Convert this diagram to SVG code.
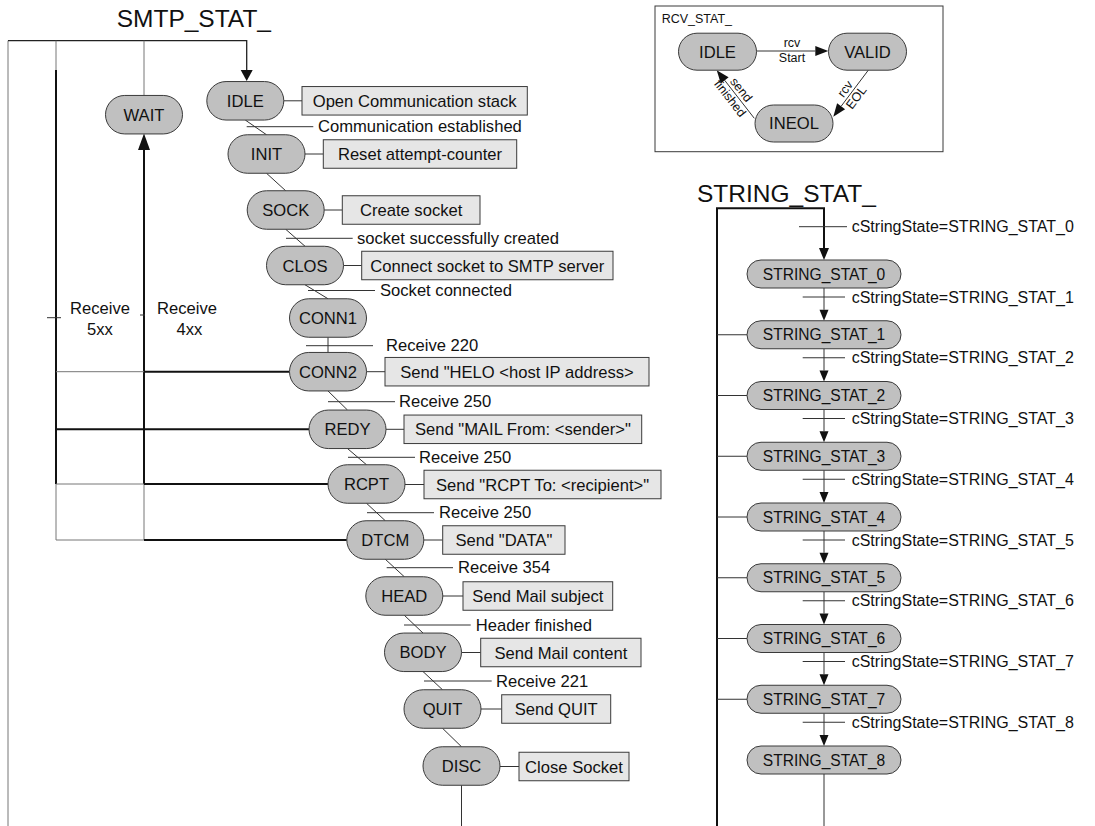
<svg xmlns="http://www.w3.org/2000/svg" width="1095" height="826" viewBox="0 0 1095 826">
<style>
.st{fill:#c0c0c0;stroke:#3a3a3a;stroke-width:1}
.ac{fill:#e6e6e6;stroke:#3a3a3a;stroke-width:1}
.box{fill:#fff;stroke:#3a3a3a;stroke-width:1}
text{font-family:"Liberation Sans",Arial,sans-serif;fill:#111}
.t{font-size:16.6px}
.c{text-anchor:middle}
.s{font-size:15.6px}
.sl{font-size:16px}
.sm{font-size:12.5px}
.ttl{font-size:24.5px}
.ln{stroke:#333;stroke-width:1;fill:none}
.thk{stroke:#111;stroke-width:2;fill:none}
.gr{stroke:#777;stroke-width:1;fill:none}
.ah{fill:#111;stroke:none}
</style>
<rect width="1095" height="826" fill="#fff"/>

<text class="ttl" x="116.7" y="27">SMTP_STAT_</text>
<text class="ttl" x="697" y="202">STRING_STAT_</text>

<g id="connectors">
  <!-- SMTP feedback lines -->
  <path class="gr" d="M8,826 V40.7"/>
  <path d="M8,40.7 H246.7 V70" stroke="#222" stroke-width="1.3" fill="none"/>
  <polygon class="ah" points="240.7,70 252.7,70 246.7,81"/>
  <path class="gr" d="M56,40.7 V70"/>
  <path class="thk" d="M56,70 V484"/>
  <path class="gr" d="M56,484 V540"/>
  <path class="gr" d="M144,40.7 V95.5"/>
  <path class="thk" d="M144,150 V484"/>
  <path class="gr" d="M144,484 V540"/>
  <polygon class="ah" points="138,150 150,150 144,133.5"/>
  <path class="gr" d="M56,371.7 H144"/>
  <path class="thk" d="M144,371.7 H289.5"/>
  <path class="thk" d="M56,429.3 H309"/>
  <path class="gr" d="M56,484 H144"/>
  <path class="thk" d="M144,484 H328"/>
  <path class="gr" d="M56,540 H144"/>
  <path class="thk" d="M144,540 H346.8"/>
  <path class="ln" d="M47,317.7 H61"/>
  <path class="ln" d="M140,315 H145"/>
  <text class="t c" x="100" y="314">Receive</text>
  <text class="t c" x="100" y="335">5xx</text>
  <text class="t c" x="187" y="314">Receive</text>
  <text class="t c" x="189.5" y="335">4xx</text>

  <!-- SMTP chain transitions -->
  <path class="ln" d="M245.3,120.05 L266.5,134.75"/>
  <path class="ln" d="M266.5,173.25 L285.7,190.75"/>
  <path class="ln" d="M285.7,229.25 L305,246.25"/>
  <path class="ln" d="M305,284.75 L328,298.75"/>
  <path class="ln" d="M328,337.25 L328,352.45"/>
  <path class="ln" d="M328,390.95 L347.5,410.05"/>
  <path class="ln" d="M347.5,448.55 L366.5,464.75"/>
  <path class="ln" d="M366.5,503.25 L385.3,520.75"/>
  <path class="ln" d="M385.3,559.25 L404.3,576.75"/>
  <path class="ln" d="M404.3,615.25 L423,633.05"/>
  <path class="ln" d="M423,671.55 L442.5,689.75"/>
  <path class="ln" d="M442.5,728.25 L461.5,746.75"/>
  <path class="ln" d="M461.5,785.25 V826"/>

  <!-- transition bars + labels -->
  <path class="ln" d="M246.7,126.7 H313.3"/><text class="t" x="318" y="132.4">Communication established</text>
  <path class="ln" d="M286,238.3 H352.7"/><text class="t" x="357" y="244">socket successfully created</text>
  <path class="ln" d="M308,290.5 H375"/><text class="t" x="380" y="296.2">Socket connected</text>
  <path class="ln" d="M306,345.7 H373"/><text class="t" x="386" y="351.4">Receive 220</text>
  <path class="ln" d="M328,401.7 H395"/><text class="t" x="399" y="407.4">Receive 250</text>
  <path class="ln" d="M348,457.3 H415"/><text class="t" x="419" y="463">Receive 250</text>
  <path class="ln" d="M367,512.7 H434"/><text class="t" x="439" y="518.4">Receive 250</text>
  <path class="ln" d="M386.7,567.7 H453"/><text class="t" x="458" y="573.4">Receive 354</text>
  <path class="ln" d="M404,625 H470.7"/><text class="t" x="475.7" y="630.7">Header finished</text>
  <path class="ln" d="M424,681 H491.7"/><text class="t" x="496" y="686.7">Receive 221</text>

  <!-- action links -->
  <path class="ln" d="M283.8,100.8 H302"/>
  <path class="ln" d="M305,154 H323.3"/>
  <path class="ln" d="M324.2,210 H342.3"/>
  <path class="ln" d="M343.5,265.5 H361.7"/>
  <path class="ln" d="M366.5,371.7 H385"/>
  <path class="ln" d="M386,429.3 H404"/>
  <path class="ln" d="M405,484.5 H424"/>
  <path class="ln" d="M423.8,540 H442.7"/>
  <path class="ln" d="M442.8,596 H463"/>
  <path class="ln" d="M461.5,652.5 H480.7"/>
  <path class="ln" d="M481,709 H501.7"/>
  <path class="ln" d="M500,766.5 H519"/>

  <!-- STRING column -->
  <path class="thk" d="M717,826 V208.3 H824 V248"/>
  <polygon class="ah" points="819,248 829,248 824,260"/>
  <path class="ln" d="M799,226.7 H847"/><text class="sl" x="851.7" y="232.2">cStringState=STRING_STAT_0</text>

  <path class="ln" d="M824,288 V309.75"/><polygon class="ah" points="819.5,309.75 828.5,309.75 824,320.75"/>
  <path class="ln" d="M802.7,297 H845"/><text class="sl" x="851.7" y="302.5">cStringState=STRING_STAT_1</text>
  <path class="ln" d="M824,348.75 V370.5"/><polygon class="ah" points="819.5,370.5 828.5,370.5 824,381.5"/>
  <path class="ln" d="M802.7,357.75 H845"/><text class="sl" x="851.7" y="363.25">cStringState=STRING_STAT_2</text>
  <path class="ln" d="M824,409.5 V431.25"/><polygon class="ah" points="819.5,431.25 828.5,431.25 824,442.25"/>
  <path class="ln" d="M802.7,418.5 H845"/><text class="sl" x="851.7" y="424">cStringState=STRING_STAT_3</text>
  <path class="ln" d="M824,470.25 V492"/><polygon class="ah" points="819.5,492 828.5,492 824,503"/>
  <path class="ln" d="M802.7,479.25 H845"/><text class="sl" x="851.7" y="484.75">cStringState=STRING_STAT_4</text>
  <path class="ln" d="M824,531 V552.75"/><polygon class="ah" points="819.5,552.75 828.5,552.75 824,563.75"/>
  <path class="ln" d="M802.7,540 H845"/><text class="sl" x="851.7" y="545.5">cStringState=STRING_STAT_5</text>
  <path class="ln" d="M824,591.75 V613.5"/><polygon class="ah" points="819.5,613.5 828.5,613.5 824,624.5"/>
  <path class="ln" d="M802.7,600.75 H845"/><text class="sl" x="851.7" y="606.25">cStringState=STRING_STAT_6</text>
  <path class="ln" d="M824,652.5 V674.25"/><polygon class="ah" points="819.5,674.25 828.5,674.25 824,685.25"/>
  <path class="ln" d="M802.7,661.5 H845"/><text class="sl" x="851.7" y="667">cStringState=STRING_STAT_7</text>
  <path class="ln" d="M824,713.25 V735"/><polygon class="ah" points="819.5,735 828.5,735 824,746"/>
  <path class="ln" d="M802.7,722.25 H845"/><text class="sl" x="851.7" y="727.75">cStringState=STRING_STAT_8</text>
  <path class="ln" d="M824,774 V826"/>

  <path class="ln" d="M717,334.75 H747"/>
  <path class="ln" d="M717,395.5 H747"/>
  <path class="ln" d="M717,456.25 H747"/>
  <path class="ln" d="M717,517 H747"/>
  <path class="ln" d="M717,577.75 H747"/>
  <path class="ln" d="M717,638.5 H747"/>
  <path class="ln" d="M717,699.25 H747"/>
</g>

<!-- SMTP states -->
<g id="n-wait"><rect class="st" x="105.5" y="95.45" width="77" height="38.5" rx="19.25"/><text class="t c" x="144" y="120.7">WAIT</text></g>
<g id="n-idle"><rect class="st" x="206.8" y="81.55" width="77" height="38.5" rx="19.25"/><text class="t c" x="245.3" y="106.8">IDLE</text></g>
<g id="n-init"><rect class="st" x="228" y="134.75" width="77" height="38.5" rx="19.25"/><text class="t c" x="266.5" y="160">INIT</text></g>
<g id="n-sock"><rect class="st" x="247.2" y="190.75" width="77" height="38.5" rx="19.25"/><text class="t c" x="285.7" y="216">SOCK</text></g>
<g id="n-clos"><rect class="st" x="266.5" y="246.25" width="77" height="38.5" rx="19.25"/><text class="t c" x="305" y="271.5">CLOS</text></g>
<g id="n-conn1"><rect class="st" x="289.5" y="298.75" width="77" height="38.5" rx="19.25"/><text class="t c" x="328" y="324">CONN1</text></g>
<g id="n-conn2"><rect class="st" x="289.5" y="352.45" width="77" height="38.5" rx="19.25"/><text class="t c" x="328" y="377.7">CONN2</text></g>
<g id="n-redy"><rect class="st" x="309" y="410.05" width="77" height="38.5" rx="19.25"/><text class="t c" x="347.5" y="435.3">REDY</text></g>
<g id="n-rcpt"><rect class="st" x="328" y="464.75" width="77" height="38.5" rx="19.25"/><text class="t c" x="366.5" y="490">RCPT</text></g>
<g id="n-dtcm"><rect class="st" x="346.8" y="520.75" width="77" height="38.5" rx="19.25"/><text class="t c" x="385.3" y="546">DTCM</text></g>
<g id="n-head"><rect class="st" x="365.8" y="576.75" width="77" height="38.5" rx="19.25"/><text class="t c" x="404.3" y="602">HEAD</text></g>
<g id="n-body"><rect class="st" x="384.5" y="633.05" width="77" height="38.5" rx="19.25"/><text class="t c" x="423" y="658.3">BODY</text></g>
<g id="n-quit"><rect class="st" x="404" y="689.75" width="77" height="38.5" rx="19.25"/><text class="t c" x="442.5" y="715">QUIT</text></g>
<g id="n-disc"><rect class="st" x="423" y="746.75" width="77" height="38.5" rx="19.25"/><text class="t c" x="461.5" y="772">DISC</text></g>

<!-- action boxes -->
<g id="a-idle"><rect class="ac" x="302" y="86.55" width="225.3" height="28.5"/><text class="t c" x="414.65" y="106.8">Open Communication stack</text></g>
<g id="a-init"><rect class="ac" x="323.3" y="139.75" width="193.4" height="28.5"/><text class="t c" x="420" y="160">Reset attempt-counter</text></g>
<g id="a-sock"><rect class="ac" x="342.3" y="195.75" width="137.7" height="28.5"/><text class="t c" x="411.15" y="216">Create socket</text></g>
<g id="a-clos"><rect class="ac" x="361.7" y="251.25" width="251.3" height="28.5"/><text class="t c" x="487.35" y="271.5">Connect socket to SMTP server</text></g>
<g id="a-conn2"><rect class="ac" x="385" y="357.45" width="264" height="28.5"/><text class="t c" x="517" y="377.7">Send "HELO &lt;host IP address&gt;</text></g>
<g id="a-redy"><rect class="ac" x="404" y="415.05" width="237.7" height="28.5"/><text class="t c" x="522.85" y="435.3">Send "MAIL From: &lt;sender&gt;"</text></g>
<g id="a-rcpt"><rect class="ac" x="424" y="470.25" width="237" height="28.5"/><text class="t c" x="542.5" y="490.5">Send "RCPT To: &lt;recipient&gt;"</text></g>
<g id="a-dtcm"><rect class="ac" x="442.7" y="525.75" width="122.3" height="28.5"/><text class="t c" x="503.85" y="546">Send "DATA"</text></g>
<g id="a-head"><rect class="ac" x="463" y="581.75" width="149.7" height="28.5"/><text class="t c" x="537.85" y="602">Send Mail subject</text></g>
<g id="a-body"><rect class="ac" x="480.7" y="638.25" width="160.3" height="28.5"/><text class="t c" x="560.85" y="658.5">Send Mail content</text></g>
<g id="a-quit"><rect class="ac" x="501.7" y="694.75" width="109" height="28.5"/><text class="t c" x="556.2" y="715">Send QUIT</text></g>
<g id="a-disc"><rect class="ac" x="519" y="752.25" width="110" height="28.5"/><text class="t c" x="574" y="772.5">Close Socket</text></g>

<!-- STRING states -->
<g id="s0"><rect class="st" x="747" y="260" width="154" height="28" rx="14"/><text class="s c" x="824" y="279.6">STRING_STAT_0</text></g>
<g id="s1"><rect class="st" x="747" y="320.75" width="154" height="28" rx="14"/><text class="s c" x="824" y="340.35">STRING_STAT_1</text></g>
<g id="s2"><rect class="st" x="747" y="381.5" width="154" height="28" rx="14"/><text class="s c" x="824" y="401.1">STRING_STAT_2</text></g>
<g id="s3"><rect class="st" x="747" y="442.25" width="154" height="28" rx="14"/><text class="s c" x="824" y="461.85">STRING_STAT_3</text></g>
<g id="s4"><rect class="st" x="747" y="503" width="154" height="28" rx="14"/><text class="s c" x="824" y="522.6">STRING_STAT_4</text></g>
<g id="s5"><rect class="st" x="747" y="563.75" width="154" height="28" rx="14"/><text class="s c" x="824" y="583.35">STRING_STAT_5</text></g>
<g id="s6"><rect class="st" x="747" y="624.5" width="154" height="28" rx="14"/><text class="s c" x="824" y="644.1">STRING_STAT_6</text></g>
<g id="s7"><rect class="st" x="747" y="685.25" width="154" height="28" rx="14"/><text class="s c" x="824" y="704.85">STRING_STAT_7</text></g>
<g id="s8"><rect class="st" x="747" y="746" width="154" height="28" rx="14"/><text class="s c" x="824" y="765.6">STRING_STAT_8</text></g>

<!-- RCV_STAT_ inset -->
<g id="rcv">
  <rect class="box" x="655" y="6" width="288" height="145.7"/>
  <text x="661.7" y="22.7" style="font-size:12.5px">RCV_STAT_</text>
  <g id="rcv-conn">
    <path class="ln" d="M756.7,51 H815.3"/>
    <polygon class="ah" points="815.3,46 815.3,56 828.3,51"/>
    <text class="sm c" x="792" y="46.7">rcv</text>
    <text class="sm c" x="792" y="61.7">Start</text>
    <path class="ln" d="M868.3,70.2 L841.1,106.3"/>
    <polygon class="ah" points="845.1,109.3 837.1,103.3 833.3,116.7"/>
    <g transform="translate(850.8,93.3) rotate(-53)">
      <text class="sm c" x="0" y="-3">rcv</text>
      <text class="sm c" x="0" y="11">EOL</text>
    </g>
    <path class="ln" d="M754.3,118.3 L724.7,80.3"/>
    <polygon class="ah" points="728.6,77.2 720.8,83.4 716.7,70.2"/>
    <g transform="translate(735.5,94.2) rotate(52)">
      <text class="sm c" x="0" y="-3">send</text>
      <text class="sm c" x="0" y="11">finished</text>
    </g>
  </g>
  <g id="r-idle"><rect class="st" x="678.5" y="33.2" width="78" height="37" rx="18.5"/><text class="t c" x="717.5" y="57.6">IDLE</text></g>
  <g id="r-valid"><rect class="st" x="828.5" y="33.2" width="78" height="37" rx="18.5"/><text class="t c" x="867.5" y="57.6">VALID</text></g>
  <g id="r-ineol"><rect class="st" x="755" y="105" width="78" height="37" rx="18.5"/><text class="t c" x="794" y="129.4">INEOL</text></g>
</g>
</svg>
